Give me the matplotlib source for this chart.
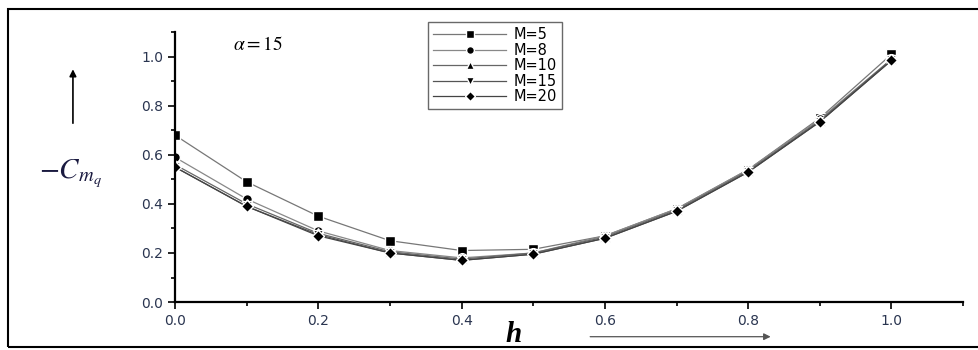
import matplotlib
matplotlib.use("Agg")
import matplotlib.pyplot as plt
from matplotlib.patches import Rectangle

plt.rcParams["mathtext.fontset"] = "stix"

h = [0.0, 0.1, 0.2, 0.3, 0.4, 0.5, 0.6, 0.7, 0.8, 0.9, 1.0]
m5 = [0.68, 0.49, 0.35, 0.25, 0.21, 0.215, 0.27, 0.38, 0.54, 0.75, 1.01]
m8 = [0.59, 0.42, 0.29, 0.21, 0.18, 0.20, 0.27, 0.38, 0.54, 0.745, 0.99]
m10 = [0.56, 0.40, 0.28, 0.205, 0.175, 0.20, 0.265, 0.375, 0.535, 0.74, 0.99]
m15 = [0.55, 0.39, 0.275, 0.20, 0.17, 0.195, 0.26, 0.37, 0.53, 0.735, 0.985]
m20 = [0.55, 0.39, 0.27, 0.20, 0.17, 0.195, 0.26, 0.37, 0.53, 0.735, 0.985]
labels = ["M=5", "M=8", "M=10", "M=15", "M=20"]
markers = ["s", "o", "^", "v", "D"]
line_grays = ["#777777", "#888888", "#666666", "#555555", "#444444"]

fig = plt.figure(figsize=(9.79, 3.5), dpi=100)
ax = fig.add_axes([0.1788, 0.137, 0.805, 0.771])

for ys, lab, mk, c in zip([m5, m8, m10, m15, m20], labels, markers, line_grays):
    ax.plot(h, ys, color=c, lw=0.9, marker=mk, ms=7 if mk != "D" else 6,
            mfc="black", mec="white", mew=1.0, label=lab)

ax.set_xlim(0, 1.1)
ax.set_ylim(0, 1.1)
ax.set_xticks([0.0, 0.2, 0.4, 0.6, 0.8, 1.0])
ax.set_xticks([0.1, 0.3, 0.5, 0.7, 0.9, 1.1], minor=True)
ax.set_yticks([0.0, 0.2, 0.4, 0.6, 0.8, 1.0])
ax.set_yticks([0.1, 0.3, 0.5, 0.7, 0.9, 1.1], minor=True)
ax.set_xticklabels(["0.0", "0.2", "0.4", "0.6", "0.8", "1.0"])
ax.set_yticklabels(["0.0", "0.2", "0.4", "0.6", "0.8", "1.0"])
for s in ["top", "right"]:
    ax.spines[s].set_visible(False)
for s in ["left", "bottom"]:
    ax.spines[s].set_linewidth(1.6)
ax.tick_params(which="major", direction="out", length=5, width=1.2,
               labelsize=10, labelcolor="#2a3550")
ax.tick_params(which="minor", direction="out", length=3, width=1.2)

leg = ax.legend(loc="upper left", bbox_to_anchor=(0.321, 1.037),
                borderaxespad=0, frameon=True, fancybox=False,
                edgecolor="#444444", handlelength=5.0, labelspacing=0.03,
                borderpad=0.35, handletextpad=0.5, markerscale=0.8,
                numpoints=1, prop={"family": "DejaVu Sans", "size": 10.5})
leg.get_frame().set_linewidth(1.0)

ax.text(0.073, 0.955, r"$\alpha = 15$", transform=ax.transAxes, fontsize=14,
        va="center")

# y label with arrow
fig.text(0.072, 0.505, r"$-C_{m_q}$", fontsize=21, va="center", ha="center",
         color="#1a1a40")
ax.annotate("", xy=(0.0745, 0.81), xytext=(0.0745, 0.64),
            xycoords="figure fraction", textcoords="figure fraction",
            arrowprops=dict(arrowstyle="-|>", color="black", lw=1.2,
                            mutation_scale=10))

# x label with arrow
fig.text(0.525, 0.045, "h", fontsize=21, style="italic", weight="bold",
         family="Liberation Serif", ha="center", va="center")
ax.annotate("", xy=(0.79, 0.038), xytext=(0.60, 0.038),
            xycoords="figure fraction", textcoords="figure fraction",
            arrowprops=dict(arrowstyle="-|>", color="#555555", lw=0.9,
                            mutation_scale=10))

# outer frame
fig.patches.append(Rectangle((8 / 979, 3 / 350), 1.0, 1 - 12 / 350,
                             fill=False, edgecolor="black", lw=1.5,
                             transform=fig.transFigure))

fig.savefig("out.png", dpi=100)
